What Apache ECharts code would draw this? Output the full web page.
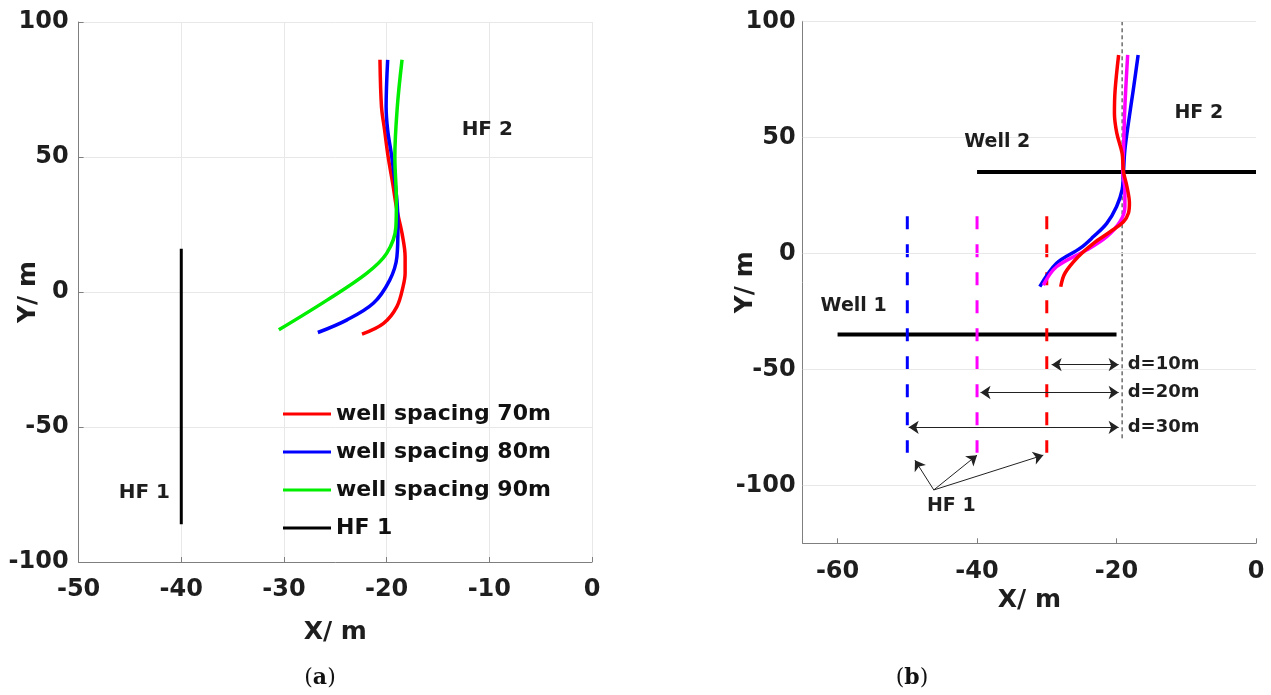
<!DOCTYPE html>
<html>
<head>
<meta charset="utf-8">
<script src="https://cdn.jsdelivr.net/npm/echarts@6/dist/echarts.min.js"></script>
<style>
  html, body { margin: 0; padding: 0; background: #ffffff; }
  #chart { width: 1271px; height: 695px; }
</style>
</head>
<body>
<div id="chart"></div>
<script>
// ---------- panel (a): HF 2 trajectories for three well spacings ----------
const spacing70 = [[-20.65, 86], [-20.5, 68.6], [-20.2, 60], [-19.85, 50], [-19.4, 40], [-19.0, 30.4],
  [-18.5, 21.7], [-18.2, 13], [-18.2, 7], [-18.4, 2], [-19.0, -5.4], [-20.3, -11.6], [-22.4, -15.6]];
const spacing80 = [[-19.9, 86], [-20.05, 68.6], [-19.9, 60], [-19.5, 50], [-19.0, 34], [-18.9, 24],
  [-19.0, 13], [-19.7, 4.4], [-21.3, -4.2], [-23.9, -10.4], [-26.7, -15]];
const spacing90 = [[-18.5, 86], [-18.96, 68.6], [-19.2, 50], [-19.05, 34], [-19.1, 24], [-20.0, 14.3],
  [-21.95, 6.9], [-25.8, -3], [-30.5, -14]];
const hf1Left = [[-40, 16], [-40, -86]];
const legendNames = ['well spacing 70m', 'well spacing 80m', 'well spacing 90m', 'HF 1'];
const labelsA = [{ name: 'HF 2', value: [-10.2, 60] }, { name: 'HF 1', value: [-43.6, -74.4] }];

// ---------- panel (b): HF 2 trajectories for three HF 1 offsets ----------
const pathD10 = [[-19.7, 85.5], [-20.2, 70.4], [-20.3, 60.4], [-19.96, 51.8], [-19.2, 43.1], [-19.0, 35.2],
  [-18.5, 28.7], [-18.15, 21.6], [-18.3, 17.3], [-19.0, 13.6], [-20.9, 9.3], [-23.3, 4.3], [-25.5, -1.5],
  [-27.4, -8.6], [-28.0, -14.4]];
const pathD20 = [[-18.4, 85.5], [-18.8, 63.2], [-19.0, 44.6], [-19.1, 35.2], [-18.8, 27.3], [-18.8, 20.1],
  [-19.5, 13.6], [-21.4, 7.2], [-24.3, 1.4], [-28.6, -5.8], [-30.5, -13.7]];
const pathD30 = [[-16.9, 85.5], [-17.6, 70.4], [-18.3, 56.1], [-18.8, 44.6], [-19.0, 35.2], [-19.2, 27.3],
  [-20.0, 20.1], [-21.4, 12.9], [-23.3, 7.2], [-25.2, 2.2], [-28.6, -4.3], [-31.0, -14.4]];
const hf1Offsets = [-30, -40, -50];        // HF 1 positions for d = 10, 20, 30 m
const hf1Span = [16, -86];
const well1 = [[-60, -35], [-20, -35]];
const well2 = [[-40, 35], [0, 35]];
const refLineX = -19.2;
const refLineSpan = [100, -81];
const distArrows = [                        // [from x, to x, y, label]
  [-29.3, -19.7, -48, 'd=10m'],
  [-39.5, -19.7, -60, 'd=20m'],
  [-49.8, -19.7, -75, 'd=30m']
];
const hf1Pointer = { from: [-46.2, -102], to: [[-48.9, -89.2], [-40, -87], [-30.5, -87]] };
const labelsB = [
  { name: 'HF 2', value: [-8.2, 60.5] },
  { name: 'Well 2', value: [-37.1, 48] },
  { name: 'Well 1', value: [-57.7, -22.7] },
  { name: 'HF 1', value: [-43.7, -109] }
];
const xTicksB = [-60, -40, -20, 0];
const yTicksB = [-100, -50, 0, 50, 100];

const FONT = 'DejaVu Sans';
const TXT = '#1e1e1e';
const AXIS = '#7f7f7f';
const GRIDC = '#e8e8e8';
const RED = '#ff0000', BLUE = '#0000ff', GREEN = '#00ee00', MAGENTA = '#ff00ff';

const tickLabel = { color: TXT, fontFamily: FONT, fontWeight: 'bold', fontSize: 24 };
const nameStyle = { color: TXT, fontFamily: FONT, fontWeight: 'bold', fontSize: 25 };

function curve(name, data, color, xi) {
  return {
    name, type: 'line', data, xAxisIndex: xi, yAxisIndex: xi, color,
    showSymbol: false, symbol: 'none', smooth: 0.35, silent: true,
    lineStyle: { color, width: 3.5 }, z: 5
  };
}
function textSeries(data, xi, size, extra) {
  return {
    type: 'scatter', xAxisIndex: xi, yAxisIndex: xi, data, symbolSize: 0, silent: true, z: 10,
    itemStyle: { opacity: 1 },
    label: Object.assign({ show: true, position: 'inside', formatter: '{b}', color: TXT, opacity: 1,
      fontFamily: FONT, fontWeight: 'bold', fontSize: size }, extra || {})
  };
}

const series = [
  // panel (a)
  curve('well spacing 70m', spacing70, RED, 0),
  curve('well spacing 80m', spacing80, BLUE, 0),
  curve('well spacing 90m', spacing90, GREEN, 0),
  { name: 'HF 1', type: 'line', data: hf1Left, xAxisIndex: 0, yAxisIndex: 0, color: '#000',
    showSymbol: false, symbol: 'none', silent: true, lineStyle: { color: '#000', width: 3 } },
  textSeries(labelsA, 0, 20),

  // panel (b): horizontal grid lines
  { type: 'line', xAxisIndex: 1, yAxisIndex: 1, data: [], silent: true, z: 0,
    markLine: { silent: true, symbol: 'none', animation: false, label: { show: false },
      lineStyle: { color: GRIDC, type: 'solid', width: 1 },
      data: yTicksB.map(v => ({ yAxis: v })) } },
  // wells
  { type: 'line', xAxisIndex: 1, yAxisIndex: 1, data: well1, showSymbol: false, symbol: 'none',
    silent: true, lineStyle: { color: '#000', width: 4 }, z: 3 },
  { type: 'line', xAxisIndex: 1, yAxisIndex: 1, data: well2, showSymbol: false, symbol: 'none',
    silent: true, lineStyle: { color: '#000', width: 4 }, z: 3 },
  // dotted reference line through the HF 2 crossing
  { type: 'line', xAxisIndex: 1, yAxisIndex: 1, data: refLineSpan.map(y => [refLineX, y]),
    showSymbol: false, symbol: 'none', silent: true,
    lineStyle: { color: '#222', width: 1, type: [4, 3] }, z: 2 },
  // HF 1 dashed fractures
  ...hf1Offsets.map((x, i) => ({
    type: 'line', xAxisIndex: 1, yAxisIndex: 1, data: hf1Span.map(y => [x, y]),
    showSymbol: false, symbol: 'none', silent: true, z: 4,
    lineStyle: { color: [RED, MAGENTA, BLUE][i], width: 3, type: [13, 15] }
  })),
  // HF 2 paths
  curve('path d=30m', pathD30, BLUE, 1),
  curve('path d=20m', pathD20, MAGENTA, 1),
  curve('path d=10m', pathD10, RED, 1),
  // distance arrows and HF 1 pointers
  { type: 'line', xAxisIndex: 1, yAxisIndex: 1, data: [], silent: true, z: 6,
    markLine: {
      silent: true, animation: false, label: { show: false },
      lineStyle: { color: '#222', width: 1, type: 'solid' },
      data: [
        ...distArrows.map(a => [
          { coord: [a[0], a[2]], symbol: 'arrow', symbolSize: 10 },
          { coord: [a[1], a[2]], symbol: 'arrow', symbolSize: 10 }
        ]),
        ...hf1Pointer.to.map(p => [
          { coord: hf1Pointer.from, symbol: 'none' },
          { coord: p, symbol: 'arrow', symbolSize: 10 }
        ])
      ]
    } },
  textSeries(labelsB, 1, 19),
  textSeries(distArrows.map(a => ({ name: a[3], value: [-18.4, a[2]] })), 1, 18, { align: 'left' })
];

const chart = echarts.init(document.getElementById('chart'), null, { renderer: 'canvas' });
chart.setOption({
  animation: false,
  backgroundColor: '#ffffff',
  grid: [
    { left: 78.6, top: 22, width: 513.4, height: 540, containLabel: false, outerBoundsMode: 'none' },
    { left: 802.7, top: 21.3, width: 453.3, height: 522, containLabel: false, outerBoundsMode: 'none' }
  ],
  xAxis: [
    { type: 'value', gridIndex: 0, min: -50, max: 0, interval: 10,
      name: 'X/ m', nameLocation: 'middle', nameGap: 58, nameMoveOverlap: false, nameTextStyle: nameStyle,
      axisLine: { onZero: false, lineStyle: { color: AXIS, width: 1 } },
      axisTick: { inside: true, length: 5, lineStyle: { color: AXIS } },
      axisLabel: Object.assign({ margin: 16 }, tickLabel),
      splitLine: { show: true, lineStyle: { color: GRIDC, width: 1 } } },
    { type: 'value', gridIndex: 1, min: -65, max: 0,
      name: 'X/ m', nameLocation: 'middle', nameGap: 45, nameMoveOverlap: false, nameTextStyle: nameStyle,
      axisLine: { onZero: false, lineStyle: { color: AXIS, width: 1 } },
      axisTick: { inside: true, length: 5, customValues: xTicksB, lineStyle: { color: AXIS } },
      axisLabel: Object.assign({ margin: 16, customValues: xTicksB }, tickLabel),
      splitLine: { show: false } }
  ],
  yAxis: [
    { type: 'value', gridIndex: 0, min: -100, max: 100, interval: 50,
      name: 'Y/ m', nameLocation: 'middle', nameGap: 38, nameRotate: 90, nameMoveOverlap: false,
      nameTextStyle: nameStyle,
      axisLine: { onZero: false, lineStyle: { color: AXIS, width: 1 } },
      axisTick: { inside: true, length: 5, lineStyle: { color: AXIS } },
      axisLabel: Object.assign({ margin: 10 }, tickLabel),
      splitLine: { show: true, lineStyle: { color: GRIDC, width: 1 } } },
    { type: 'value', gridIndex: 1, min: -125, max: 100,
      name: 'Y/ m', nameLocation: 'middle', nameGap: 45, nameRotate: 90, nameMoveOverlap: false,
      nameTextStyle: nameStyle,
      axisLine: { onZero: false, lineStyle: { color: AXIS, width: 1 } },
      axisTick: { inside: true, length: 5, customValues: yTicksB, lineStyle: { color: AXIS } },
      axisLabel: Object.assign({ margin: 7, customValues: yTicksB }, tickLabel),
      splitLine: { show: false } }
  ],
  legend: {
    data: legendNames, orient: 'vertical', left: 278, top: 398,
    icon: 'rect', itemWidth: 48, itemHeight: 3, itemGap: 16,
    selectedMode: false,
    textStyle: { color: '#111', fontFamily: FONT, fontWeight: 'bold', fontSize: 22, lineHeight: 22 }
  },
  graphic: [
    { type: 'text', x: 320, y: 678,
      style: { text: '({b|a})', fill: '#111', font: '22px "DejaVu Serif"', align: 'center', verticalAlign: 'middle',
        rich: { b: { fontFamily: 'DejaVu Serif', fontWeight: 'bold', fontSize: 22, fill: '#111' } } } },
    { type: 'text', x: 912, y: 678,
      style: { text: '({b|b})', fill: '#111', font: '22px "DejaVu Serif"', align: 'center', verticalAlign: 'middle',
        rich: { b: { fontFamily: 'DejaVu Serif', fontWeight: 'bold', fontSize: 22, fill: '#111' } } } }
  ],
  series
});
</script>
</body>
</html>
